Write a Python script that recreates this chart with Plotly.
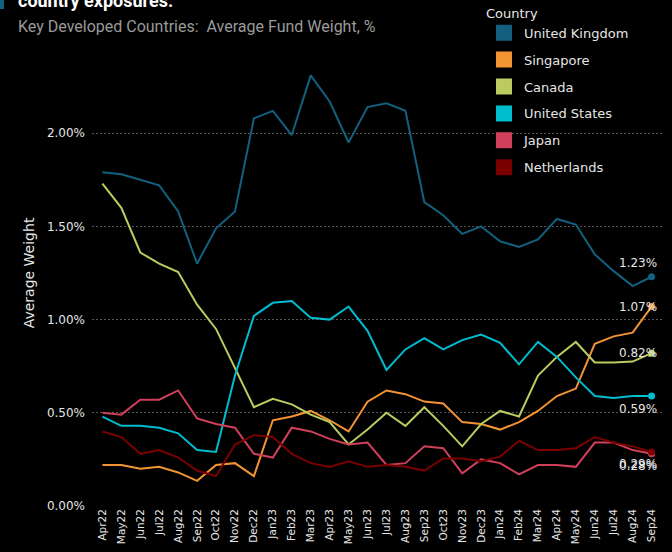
import plotly.graph_objects as go

months = ["Apr22", "May22", "Jun22", "Jul22", "Aug22", "Sep22", "Oct22", "Nov22", "Dec22",
          "Jan23", "Feb23", "Mar23", "Apr23", "May23", "Jun23", "Jul23", "Aug23", "Sep23",
          "Oct23", "Nov23", "Dec23", "Jan24", "Feb24", "Mar24", "Apr24", "May24", "Jun24",
          "Jul24", "Aug24", "Sep24"]

united_kingdom = [1.79, 1.78, 1.75, 1.72, 1.58, 1.30, 1.49, 1.58, 2.08, 2.12, 1.99, 2.31, 2.17, 1.95, 2.14,
                  2.16, 2.12, 1.63, 1.56, 1.46, 1.50, 1.42, 1.39, 1.43, 1.54, 1.51, 1.35, 1.26, 1.18, 1.23]
singapore = [0.22, 0.22, 0.20, 0.21, 0.18, 0.135, 0.22, 0.23, 0.16, 0.46, 0.48, 0.51, 0.46, 0.40, 0.56,
             0.62, 0.60, 0.56, 0.55, 0.45, 0.44, 0.41, 0.45, 0.51, 0.59, 0.63, 0.87, 0.91, 0.93, 1.07]
canada = [1.73, 1.60, 1.36, 1.30, 1.255, 1.08, 0.95, 0.74, 0.53, 0.575, 0.545, 0.49, 0.45, 0.33, 0.41,
          0.50, 0.43, 0.53, 0.43, 0.32, 0.44, 0.51, 0.48, 0.70, 0.80, 0.88, 0.77, 0.77, 0.775, 0.82]
united_states = [0.48, 0.43, 0.43, 0.42, 0.39, 0.30, 0.29, 0.70, 1.02, 1.09, 1.10, 1.01, 1.00, 1.07, 0.94,
                 0.73, 0.84, 0.90, 0.84, 0.89, 0.92, 0.875, 0.76, 0.88, 0.80, 0.69, 0.59, 0.58, 0.59, 0.59]
japan = [0.50, 0.49, 0.57, 0.57, 0.62, 0.47, 0.44, 0.42, 0.28, 0.26, 0.42, 0.40, 0.36, 0.33, 0.34,
         0.22, 0.23, 0.32, 0.31, 0.175, 0.25, 0.23, 0.17, 0.22, 0.22, 0.21, 0.34, 0.34, 0.30, 0.28]
netherlands = [0.40, 0.37, 0.28, 0.30, 0.26, 0.19, 0.16, 0.33, 0.38, 0.37, 0.28, 0.23, 0.21, 0.24, 0.21,
               0.22, 0.21, 0.19, 0.255, 0.255, 0.24, 0.265, 0.35, 0.30, 0.30, 0.31, 0.37, 0.34, 0.32, 0.29]

series = [
    ("United Kingdom", united_kingdom, "#12607e", 14),
    ("Singapore", singapore, "#f39433", 0),
    ("Canada", canada, "#bccb60", 0),
    ("United States", united_states, "#00bccf", -13),
    ("Japan", japan, "#d0405a", -12),
    ("Netherlands", netherlands, "#7a0000", -12),
]

y_ticks = [0, 0.5, 1.0, 1.5, 2.0]
y_tick_labels = [f"{v:.2f}%" for v in y_ticks]

FONT = "DejaVu Sans"
fig = go.Figure()

for name, vals, color, _ in series:
    fig.add_trace(go.Scatter(
        x=months, y=vals, mode="lines", name=name,
        line=dict(color=color, width=2), showlegend=False, hoverinfo="skip"))
    fig.add_trace(go.Scatter(
        x=[months[-1]], y=[vals[-1]], mode="markers",
        marker=dict(color=color, size=7), showlegend=False, hoverinfo="skip"))

for name, vals, color, _ in series:
    fig.add_trace(go.Scatter(
        x=[None], y=[None], mode="markers", name=name, legendgroup=name,
        marker=dict(color=color, size=16, symbol="square", line=dict(width=0))))

annotations = []
for name, vals, color, ys in series:
    annotations.append(dict(
        x=months[-1], y=vals[-1], xref="x", yref="y", text=f"{vals[-1]:.2f}%",
        showarrow=False, xanchor="right", yanchor="middle", xshift=7, yshift=ys,
        font=dict(family=FONT, size=12, color="#e6e6e6")))

annotations.append(dict(
    x=-0.1333, y=1.029, xref="paper", yref="paper", xanchor="left", yanchor="middle",
    text="Key Developed Countries:  Average Fund Weight, %", showarrow=False,
    font=dict(family="Roboto", size=16, color="#9a9a9a")))
annotations.append(dict(
    x=-0.1333, y=1.0586, xref="paper", yref="paper", xanchor="left", yanchor="bottom",
    text="<b>country exposures.</b>", showarrow=False,
    font=dict(family="Roboto", size=18, color="#ffffff")))

fig.update_layout(
    width=672, height=552,
    paper_bgcolor="#000000", plot_bgcolor="#000000",
    margin=dict(l=92, r=10, t=40, b=46, autoexpand=False),
    font=dict(family=FONT, color="#e6e6e6"),
    annotations=annotations,
    shapes=[dict(type="rect", xref="paper", yref="paper", x0=-0.1614, x1=-0.1544,
                 y0=1.0665, y1=1.09, fillcolor="#12607e", line=dict(width=0))],
    legend=dict(
        x=0.6877, y=1.084, xanchor="left", yanchor="top",
        bgcolor="rgba(0,0,0,0)", tracegroupgap=7,
        title=dict(text="Country", font=dict(family=FONT, size=13, color="#e6e6e6")),
        font=dict(family=FONT, size=13, color="#e6e6e6")),
    xaxis=dict(
        type="category", range=[-0.55, 29.55], tickangle=-90,
        tickfont=dict(family=FONT, size=10.5, color="#e6e6e6"),
        showgrid=False, zeroline=False, showline=False, ticks=""),
    yaxis=dict(
        range=[0, 2.5], tickmode="array", tickvals=y_ticks, ticktext=y_tick_labels,
        tickfont=dict(family=FONT, size=12, color="#e6e6e6"),
        showgrid=True, gridcolor="#555555", griddash="2px,2px", gridwidth=1,
        zeroline=False, showline=False, ticks="", ticklabelstandoff=6,
        title=dict(text="Average Weight", font=dict(family=FONT, size=14, color="#e6e6e6"),
                   standoff=8)),
)

fig.write_html("out.html", config={"displayModeBar": False},
               post_script="document.body.style.margin='0';document.body.style.background='#000';")
